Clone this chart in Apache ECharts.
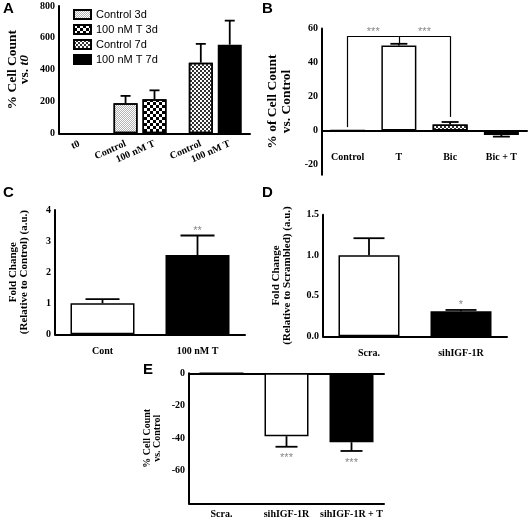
<!DOCTYPE html>
<html><head><meta charset="utf-8">
<script src="https://cdn.jsdelivr.net/npm/echarts@6/dist/echarts.min.js"></script>
<style>html,body{margin:0;padding:0;background:#fff}#c{width:528px;height:518px}</style>
</head><body><div id="c"></div><script>
// ---------- Panel A ----------
const aCategories = ['t0', 'Control', '100 nM T', 'Control', '100 nM T'];
const aSeriesNames = ['Control 3d', '100 nM T 3d', 'Control 7d', '100 nM T 7d'];
const aValues = [0, 189, 214, 444, 557];
const aErrors = [0, 46, 56, 118, 151];
const aTicks = [0, 200, 400, 600, 800];
// ---------- Panel B ----------
const bCategories = ['Control', 'T', 'Bic', 'Bic + T'];
const bValues = [0, 50, 3.6, -2.6];
const bErrors = [0, 1, 1.4, -1];
const bTicks = [-20, 0, 20, 40, 60];
// ---------- Panel C ----------
const cCategories = ['Cont', '100 nM T'];
const cValues = [1.0, 2.55];
const cErrors = [0.13, 0.63];
const cSig = ['', '**'];
const cTicks = [0, 1, 2, 3, 4];
// ---------- Panel D ----------
const dCategories = ['Scra.', 'sihIGF-1R'];
const dValues = [1.0, 0.31];
const dErrors = [0.21, 0.015];
const dSig = ['', '*'];
const dTicks = [0, 0.5, 1.0, 1.5];
// ---------- Panel E ----------
const eCategories = ['Scra.', 'sihIGF-1R', 'sihIGF-1R + T'];
const eValues = [0, -38.7, -42.4];
const eErrors = [0, -6.5, -5.4];
const eSig = ['', '***', '***'];
const eTicks = [-80, -60, -40, -20, 0];

// ---------- layout / style ----------
const aSlots = [3, 11, 16, 24, 29];
const aSlotCount = 33;
const bAxisMin = -26; // axis line runs a little past the last tick
const SERIF = 'Liberation Serif';
const SANS = 'Liberation Sans';
const tickFont = {fontFamily: SERIF, fontWeight: 'bold', fontSize: 10, color: '#000'};
const axisLine = {lineStyle: {color: '#000', width: 2}};
const axisTick = {length: 5, lineStyle: {color: '#000', width: 2}};

const aAxisData = Array(aSlotCount).fill('');
aSlots.forEach((s, i) => { aAxisData[s] = aCategories[i]; });

const decals = {
  light: {symbol: 'rect', symbolSize: 1, color: 'rgba(0,0,0,0.3)', dashArrayX: [[1, 1], [0, 1, 1, 0]], dashArrayY: [1, 0]},
  checker: {symbol: 'rect', symbolSize: 1, color: '#000', dashArrayX: [[3, 3], [0, 3, 3, 0]], dashArrayY: [3, 0]},
  gray: {symbol: 'rect', symbolSize: 1, color: '#333', dashArrayX: [[2, 2], [0, 2, 2, 0]], dashArrayY: [2, 0]}
};
const aStyles = [
  {color: '#fff', borderColor: '#000', borderWidth: 1.5, decal: decals.light},
  {color: '#fff', borderColor: '#000', borderWidth: 1.5, decal: decals.checker},
  {color: '#fff', borderColor: '#000', borderWidth: 1.5, decal: decals.gray},
  {color: '#000', borderColor: '#000', borderWidth: 1.5}
];

function errorSeries(xi, xs, vals, errs, sig, capHalf) {
  const data = vals.map((v, i) => [xs[i], v, v + errs[i]]);
  return {
    type: 'custom', xAxisIndex: xi, yAxisIndex: xi, data: data, z: 5, silent: true,
    encode: {x: 0, y: [1, 2]},
    renderItem: function (params, api) {
      const x = api.value(0), v = api.value(1), e = api.value(2);
      const p0 = api.coord([x, v]);
      const p1 = api.coord([x, e]);
      const children = [];
      if (v !== e) {
        children.push({type: 'line', shape: {x1: p0[0], y1: p0[1], x2: p1[0], y2: p1[1]}, style: {stroke: '#000', lineWidth: 1.8}});
        children.push({type: 'line', shape: {x1: p1[0] - capHalf, y1: p1[1], x2: p1[0] + capHalf, y2: p1[1]}, style: {stroke: '#000', lineWidth: 1.8}});
      }
      const s = sig ? sig[params.dataIndex] : '';
      if (s) {
        const up = e >= 0;
        children.push({type: 'text', style: {text: s, x: p1[0], y: up ? p1[1] + 1 : p1[1] + 6, align: 'center', verticalAlign: up ? 'bottom' : 'top', fill: '#888', font: '11px ' + SANS}});
      }
      return {type: 'group', children: children};
    }
  };
}

function yAxis(gi, min, max, interval, name, gap, nameSize, lh, fmt, rich) {
  return {
    type: 'value', gridIndex: gi, min: min, max: max, interval: interval,
    splitLine: {show: false}, axisLine: Object.assign({show: true}, axisLine), axisTick: axisTick,
    axisLabel: Object.assign({margin: 4, formatter: fmt}, tickFont),
    name: name, nameLocation: 'middle', nameGap: gap, nameRotate: 90,
    nameTextStyle: {fontFamily: SERIF, fontWeight: 'bold', fontSize: nameSize, color: '#000', lineHeight: lh, align: 'center', rich: rich}
  };
}

const series = [];
// A bars
aSeriesNames.forEach((nm, k) => {
  const idx = k + 1;
  const d = Array(aSlotCount).fill('-');
  d[aSlots[idx]] = aValues[idx];
  series.push({type: 'bar', name: nm, xAxisIndex: 0, yAxisIndex: 0, data: d, barWidth: 24, barGap: '-100%', itemStyle: aStyles[k], silent: true});
});
series.push(errorSeries(0, aSlots, aValues, aErrors, null, 5));
// B bars
const bStyles = [
  {color: '#fff', borderColor: '#000', borderWidth: 1.5},
  {color: '#fff', borderColor: '#000', borderWidth: 1.5},
  {color: '#fff', borderColor: '#000', borderWidth: 1.5, decal: decals.gray},
  {color: '#000', borderColor: '#000', borderWidth: 1.5}
];
const starLabel = {show: true, formatter: '***', position: 'insideMiddleTop', distance: -1, color: '#888', fontSize: 11, fontFamily: SANS};
series.push({
  type: 'bar', xAxisIndex: 1, yAxisIndex: 1, barWidth: 35, silent: true,
  data: bValues.map((v, i) => ({value: v, itemStyle: bStyles[i]})),
  markLine: {
    symbol: 'none', silent: true, animation: false,
    lineStyle: {color: '#000', width: 1.2, type: 'solid'},
    label: {show: false},
    data: [
      [{coord: [0, 2]}, {coord: [0, 55.5]}],
      [{coord: [0, 55.5], label: starLabel}, {coord: [1, 55.5]}],
      [{coord: [1, 55.5], label: starLabel}, {coord: [2, 55.5]}],
      [{coord: [1, 55.5]}, {coord: [1, 51.2]}],
      [{coord: [2, 55.5]}, {coord: [2, 8]}]
    ]
  }
});
series.push(errorSeries(1, [0, 1, 2, 3], bValues, bErrors, null, 8.5));
// C
series.push({type: 'bar', xAxisIndex: 2, yAxisIndex: 2, barWidth: 64, silent: true,
  data: cValues.map((v, i) => ({value: v, itemStyle: i === 0 ? {color: '#fff', borderColor: '#000', borderWidth: 1.5} : {color: '#000', borderColor: '#000', borderWidth: 1.5}}))});
series.push(errorSeries(2, [0, 1], cValues, cErrors, cSig, 17));
// D
series.push({type: 'bar', xAxisIndex: 3, yAxisIndex: 3, barWidth: 61, silent: true,
  data: dValues.map((v, i) => ({value: v, itemStyle: i === 0 ? {color: '#fff', borderColor: '#000', borderWidth: 1.5} : {color: '#000', borderColor: '#000', borderWidth: 1.5}}))});
series.push(errorSeries(3, [0, 1], dValues, dErrors, dSig, 15.5));
// E
series.push({type: 'bar', xAxisIndex: 4, yAxisIndex: 4, barWidth: 44, silent: true,
  data: eValues.map((v, i) => ({value: v, itemStyle: i === 2 ? {color: '#000', borderColor: '#000', borderWidth: 1.5} : {color: '#fff', borderColor: '#000', borderWidth: 1.5}}))});
series.push(errorSeries(4, [0, 1, 2], eValues, eErrors, eSig, 11));

const bY = yAxis(1, bAxisMin, bTicks[bTicks.length - 1], null, '% of Cell Count\nvs. Control', 29, 13.5, 13.5, null);
delete bY.interval;
bY.axisLabel.customValues = bTicks;
bY.axisTick = Object.assign({customValues: bTicks}, axisTick);

const option = {
  animation: false,
  backgroundColor: '#fff',
  grid: [
    {left: 59, top: 6, width: 191, height: 127.3, outerBoundsMode: 'none'},
    {left: 322, top: 28.5, width: 205, height: 146.2, outerBoundsMode: 'none'},
    {left: 55, top: 210, width: 190, height: 124.3, outerBoundsMode: 'none'},
    {left: 323, top: 214.7, width: 184, height: 121.6, outerBoundsMode: 'none'},
    {left: 189, top: 373.3, width: 195, height: 130, outerBoundsMode: 'none'}
  ],
  legend: {
    data: aSeriesNames, orient: 'vertical', left: 73, top: 9, padding: 0, itemWidth: 17, itemHeight: 9, itemGap: 4,
    icon: 'rect', selectedMode: false,
    textStyle: {fontFamily: SANS, fontSize: 11, color: '#000'}
  },
  xAxis: [
    {type: 'category', gridIndex: 0, data: aAxisData, axisLine: axisLine,
      axisTick: Object.assign({alignWithLabel: true, interval: (i, v) => v !== ''}, axisTick),
      axisLabel: Object.assign({interval: 0, rotate: 24, margin: 10}, tickFont)},
    {type: 'category', gridIndex: 1, data: bCategories, axisLine: axisLine, axisTick: Object.assign({alignWithLabel: true}, axisTick),
      axisLabel: Object.assign({interval: 0, margin: -22}, tickFont)},
    {type: 'category', gridIndex: 2, data: cCategories, axisLine: axisLine, axisTick: Object.assign({alignWithLabel: true}, axisTick),
      axisLabel: Object.assign({interval: 0, margin: 12}, tickFont)},
    {type: 'category', gridIndex: 3, data: dCategories, axisLine: axisLine, axisTick: Object.assign({alignWithLabel: true}, axisTick),
      axisLabel: Object.assign({interval: 0, margin: 12}, tickFont)},
    {type: 'category', gridIndex: 4, data: eCategories, position: 'bottom', axisLine: Object.assign({onZero: false}, axisLine),
      axisTick: Object.assign({alignWithLabel: true}, axisTick),
      axisLabel: Object.assign({interval: 0, margin: 6}, tickFont)},
    {type: 'category', gridIndex: 4, data: eCategories, position: 'top', axisLine: Object.assign({onZero: false}, axisLine),
      axisTick: {show: false}, axisLabel: {show: false}}
  ],
  yAxis: [
    yAxis(0, aTicks[0], aTicks[aTicks.length - 1], 200, '% Cell Count\nvs. {i|t0}', 28, 13.5, 12.5, null,
      {i: {fontStyle: 'italic', fontFamily: SERIF, fontWeight: 'bold', fontSize: 13.5}}),
    bY,
    yAxis(2, cTicks[0], cTicks[cTicks.length - 1], 1, 'Fold Change\n(Relative to Control) (a.u.)', 25, 11, 11.5, null),
    yAxis(3, dTicks[0], dTicks[dTicks.length - 1], 0.5, 'Fold Change\n(Relative to Scrambled) (a.u.)', 30, 11, 11.5, v => v.toFixed(1)),
    yAxis(4, eTicks[0], eTicks[eTicks.length - 1], 20, '% Cell Count\nvs. Control', 26, 10, 10.5, v => v === -80 ? '' : String(v))
  ],
  graphic: [
    {type: 'text', left: 3, top: 1, style: {text: 'A', font: 'bold 15px ' + SANS, fill: '#000'}},
    {type: 'text', left: 262, top: 1, style: {text: 'B', font: 'bold 15px ' + SANS, fill: '#000'}},
    {type: 'text', left: 3, top: 185, style: {text: 'C', font: 'bold 15px ' + SANS, fill: '#000'}},
    {type: 'text', left: 262, top: 185, style: {text: 'D', font: 'bold 15px ' + SANS, fill: '#000'}},
    {type: 'text', left: 143, top: 362, style: {text: 'E', font: 'bold 15px ' + SANS, fill: '#000'}}
  ],
  series: series
};
const chart = echarts.init(document.getElementById('c'), null, {renderer: 'canvas'});
chart.setOption(option);
</script></body></html>
